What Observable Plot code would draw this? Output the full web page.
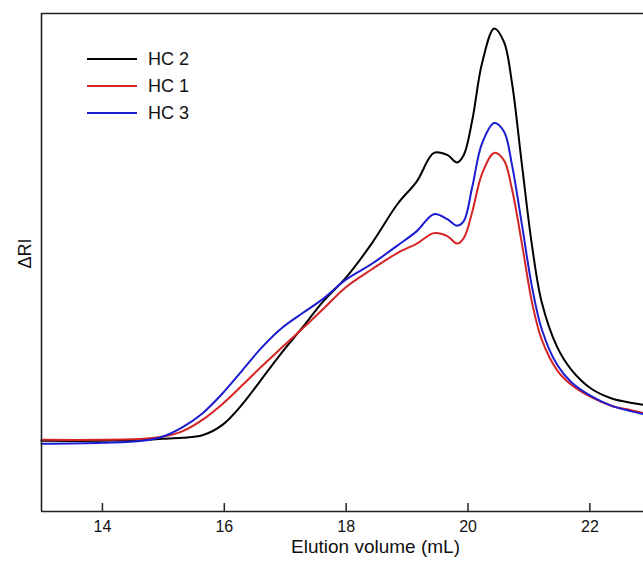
<!DOCTYPE html>
<html>
<head>
<meta charset="utf-8">
<script src="https://cdn.jsdelivr.net/npm/d3@7"></script>
<script src="https://cdn.jsdelivr.net/npm/@observablehq/plot@0.6"></script>
<style>
  html, body { margin: 0; padding: 0; background: #fff; }
  #chart { width: 643px; height: 569px; }
</style>
</head>
<body>
<div id="chart"></div>
<script>
// Elution volume (mL)
const volume = [13.0, 14.0, 14.66, 14.98, 15.31, 15.64, 15.97, 16.30, 16.62, 16.95, 17.28, 17.61, 18.0, 18.43, 18.84, 19.16, 19.44, 19.66, 19.82, 19.93, 20.07, 20.23, 20.43, 20.59, 20.72, 20.89, 21.05, 21.21, 21.46, 21.70, 22.03, 22.36, 22.69, 22.9];
// ΔRI (arbitrary units)
const hc2 = [14.2, 14.2, 14.4, 14.6, 14.8, 15.3, 17.4, 21.6, 26.7, 32.0, 36.9, 42.0, 47.0, 54.0, 61.7, 66.3, 72.0, 71.6, 70.1, 71.6, 78.6, 90.0, 97.0, 94.3, 86.2, 69.1, 53.4, 42.0, 33.1, 28.4, 24.6, 22.7, 21.8, 21.4];
const hc1 = [14.4, 14.4, 14.6, 15.0, 16.1, 18.4, 21.6, 25.4, 29.2, 33.0, 36.7, 40.5, 45.1, 48.7, 51.9, 53.8, 55.9, 55.3, 53.8, 54.9, 60.2, 67.8, 72.0, 70.5, 64.8, 53.4, 42.0, 34.5, 28.4, 25.4, 22.9, 21.2, 20.3, 19.7];
const hc3 = [13.6, 13.8, 14.2, 15.0, 16.9, 19.7, 23.7, 28.4, 33.0, 36.9, 39.8, 42.6, 46.6, 49.8, 53.4, 56.3, 59.7, 58.7, 57.4, 58.3, 65.2, 73.9, 78.0, 76.3, 69.7, 57.2, 45.1, 36.6, 29.5, 25.9, 23.1, 21.2, 20.1, 19.5];

const seriesNames = ["HC 2", "HC 1", "HC 3"];
const seriesColors = ["#000000", "#d42424", "#1c1cd0"];
const seriesValues = [hc2, hc1, hc3];
const xTicks = [14, 16, 18, 20, 22];
const xDomain = [13, 22.88];
const yDomain = [0, 100];
const tickTop = 1.6; // inward tick height, in y units

const rows = [];
seriesNames.forEach((name, i) => {
  volume.forEach((v, j) => rows.push({series: name, x: v, y: seriesValues[i][j]}));
});

const font = "Liberation Sans, Arial, sans-serif";

const chart = Plot.plot({
  width: 643,
  height: 569,
  marginLeft: 41,
  marginTop: 13,
  marginBottom: 58,
  marginRight: 0,
  style: {fontFamily: font, background: "#fff", overflow: "visible"},
  x: {domain: xDomain},
  y: {domain: yDomain},
  color: {domain: seriesNames, range: seriesColors},
  marks: [
    Plot.line(rows, {x: "x", y: "y", z: "series", stroke: "series", strokeWidth: 2, curve: "catmull-rom"}),
    Plot.ruleY([yDomain[0]], {stroke: "#222", strokeWidth: 1.6}),
    Plot.ruleY([yDomain[1]], {stroke: "#222", strokeWidth: 1.6}),
    Plot.ruleX([xDomain[0]], {stroke: "#222", strokeWidth: 1.6}),
    Plot.ruleX(xTicks, {x: d => d, y1: yDomain[0], y2: tickTop, stroke: "#222", strokeWidth: 1.5}),
    Plot.axisX(xTicks, {tickSize: 0, tickPadding: 9, label: null, fontSize: 16, fill: "#111", tickFormat: d => String(d)}),
    Plot.axisY({ticks: [], label: null}),
    Plot.text(["Elution volume (mL)"], {frameAnchor: "bottom", dy: 41, dx: 33, fontSize: 19, fill: "#111"}),
    Plot.text(["\u0394RI"], {frameAnchor: "left", dx: -16, dy: 6, rotate: -90, fontSize: 18, fill: "#111"})
  ]
});

// legend inside the frame, top-left
const svg = d3.select(chart);
const lg = svg.append("g").attr("font-family", font).attr("font-size", 18).attr("text-anchor", "start");
seriesNames.forEach((name, i) => {
  const yy = 59 + i * 27;
  lg.append("line").attr("x1", 87).attr("x2", 137).attr("y1", yy).attr("y2", yy)
    .attr("stroke", seriesColors[i]).attr("stroke-width", 2);
  lg.append("text").attr("x", 148).attr("y", yy).attr("dy", "0.35em").attr("fill", "#111").text(name);
});

document.getElementById("chart").appendChild(chart);
</script>
</body>
</html>
